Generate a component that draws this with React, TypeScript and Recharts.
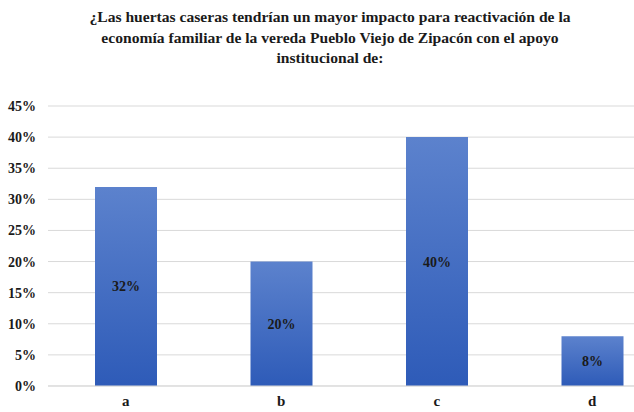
import { BarChart, Bar, XAxis, YAxis, CartesianGrid, LabelList } from 'recharts';

const categories = ['a', 'b', 'c', 'd'];
const shares = [0.32, 0.2, 0.4, 0.08];
const yTicks = [0, 0.05, 0.1, 0.15, 0.2, 0.25, 0.3, 0.35, 0.4, 0.45];

const data = categories.map((name, i) => ({ name, value: shares[i] }));

const pct = (v: number) => `${Math.round(v * 100)}%`;
const serifFont = 'Liberation Serif';

export default function App() {
  return (
    <div style={{ position: 'fixed', top: 0, left: 0, width: 634, height: 412, overflow: 'hidden', background: '#fff' }}>
      <div
        style={{
          position: 'absolute',
          top: 7,
          left: 60,
          width: 540,
          textAlign: 'center',
          fontFamily: serifFont,
          fontWeight: 'bold',
          fontSize: 15.6,
          lineHeight: '20.5px',
          color: '#1a1a1a',
        }}
      >
        ¿Las huertas caseras tendrían un mayor impacto para reactivación de la economía familiar de la vereda Pueblo Viejo de Zipacón con el apoyo institucional de:
      </div>
      <div style={{ position: 'absolute', top: 0, left: 0 }}>
        <BarChart width={670} height={412} data={data} margin={{ top: 106, right: 0, bottom: 6, left: 8 }}>
          <defs>
            <linearGradient id="barFill" x1="0" y1="0" x2="0" y2="1">
              <stop offset="0%" stopColor="#5c82cd" />
              <stop offset="100%" stopColor="#2e5bb8" />
            </linearGradient>
          </defs>
          <CartesianGrid vertical={false} stroke="#d9d9d9" />
          <XAxis
            dataKey="name"
            height={20}
            axisLine={{ stroke: '#d9d9d9' }}
            tickLine={false}
            tickSize={0}
            tickMargin={9}
            tick={{ fontFamily: serifFont, fontWeight: 'bold', fontSize: 15, fill: '#1a1a1a' }}
          />
          <YAxis
            domain={[0, 0.45]}
            ticks={yTicks}
            tickFormatter={pct}
            width={40}
            axisLine={false}
            tickLine={false}
            tickSize={0}
            tickMargin={12}
            tick={{ fontFamily: serifFont, fontWeight: 'bold', fontSize: 14, fill: '#1a1a1a' }}
          />
          <Bar dataKey="value" fill="url(#barFill)" barSize={62} isAnimationActive={false}>
            <LabelList
              dataKey="value"
              position="center"
              formatter={(v: number) => pct(v)}
              style={{ fontFamily: serifFont, fontWeight: 'bold', fontSize: 14, fill: '#1a1a1a' }}
            />
          </Bar>
        </BarChart>
      </div>
    </div>
  );
}
